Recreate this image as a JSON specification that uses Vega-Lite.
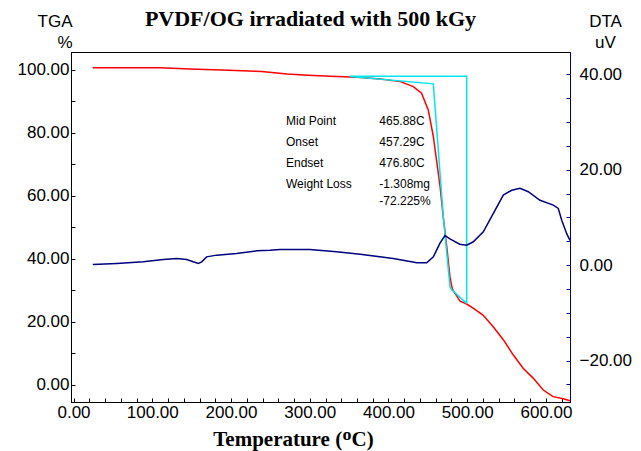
{
  "$schema": "https://vega.github.io/schema/vega-lite/v6.json",
  "width": 499,
  "height": 350,
  "autosize": {"type": "none"},
  "padding": {"left": 71, "top": 52, "right": 71, "bottom": 49},
  "background": "white",
  "title": {
    "text": "PVDF/OG irradiated with 500 kGy",
    "font": "Liberation Serif",
    "fontSize": 22,
    "fontWeight": "bold",
    "color": "#000000",
    "anchor": "middle",
    "frame": "group",
    "dx": -10,
    "offset": -19
  },
  "config": {
    "view": {"stroke": "#000000", "strokeWidth": 1},
    "axis": {
      "grid": false,
      "labelFont": "Liberation Sans",
      "labelFontSize": 17,
      "labelColor": "#000000",
      "labelOverlap": false,
      "tickSize": -4,
      "tickWidth": 1,
      "domainWidth": 1,
      "titleFont": "Liberation Sans",
      "titleFontSize": 17,
      "titleFontWeight": "normal",
      "titleColor": "#000000"
    }
  },
  "datasets": {
    "tga": [
      {"T": 24.4, "v": 100.7}, {"T": 60, "v": 100.7}, {"T": 110, "v": 100.7}, {"T": 148, "v": 100.3},
      {"T": 188, "v": 100.0}, {"T": 239, "v": 99.5}, {"T": 271, "v": 98.7}, {"T": 298, "v": 98.3},
      {"T": 326, "v": 98.0}, {"T": 360, "v": 97.7}, {"T": 390, "v": 97.1}, {"T": 415, "v": 96.3},
      {"T": 431.5, "v": 94.7}, {"T": 442, "v": 92.6}, {"T": 450.5, "v": 87.3}, {"T": 457, "v": 78.8},
      {"T": 461, "v": 71.4}, {"T": 465.5, "v": 63.0}, {"T": 469.5, "v": 53.4}, {"T": 474, "v": 43.9},
      {"T": 478, "v": 34.4}, {"T": 481, "v": 30.5}, {"T": 484.5, "v": 29.1}, {"T": 491, "v": 26.6},
      {"T": 499.3, "v": 25.7}, {"T": 508, "v": 24.3}, {"T": 520, "v": 22.2}, {"T": 533, "v": 18.5},
      {"T": 546, "v": 14.3}, {"T": 558.5, "v": 9.5}, {"T": 571, "v": 5.3}, {"T": 584, "v": 2.1},
      {"T": 596.5, "v": -1.6}, {"T": 609, "v": -3.7}, {"T": 622, "v": -4.4}, {"T": 630.5, "v": -5.0}
    ],
    "dta": [
      {"T": 24.4, "v": 0.15}, {"T": 55, "v": 0.36}, {"T": 88.6, "v": 0.7}, {"T": 114, "v": 1.2},
      {"T": 131, "v": 1.4}, {"T": 143.7, "v": 1.2}, {"T": 152, "v": 0.7}, {"T": 158.5, "v": 0.36},
      {"T": 162.8, "v": 0.7}, {"T": 169, "v": 1.74}, {"T": 181.8, "v": 2.1}, {"T": 207, "v": 2.45},
      {"T": 232.6, "v": 3.0}, {"T": 249.5, "v": 3.14}, {"T": 262, "v": 3.3}, {"T": 300, "v": 3.3},
      {"T": 334, "v": 2.8}, {"T": 364, "v": 2.3}, {"T": 406, "v": 1.4}, {"T": 436, "v": 0.48},
      {"T": 448.5, "v": 0.48}, {"T": 457, "v": 1.74}, {"T": 465.4, "v": 4.6}, {"T": 471.7, "v": 6.2},
      {"T": 478, "v": 5.5}, {"T": 490.5, "v": 4.4}, {"T": 499.3, "v": 4.2}, {"T": 507.7, "v": 4.9},
      {"T": 520.4, "v": 7.0}, {"T": 533, "v": 10.8}, {"T": 545.8, "v": 14.7}, {"T": 556.4, "v": 15.7},
      {"T": 567, "v": 16.1}, {"T": 577.5, "v": 15.4}, {"T": 592.4, "v": 13.6}, {"T": 609.3, "v": 12.6},
      {"T": 615.6, "v": 11.9}, {"T": 620, "v": 9.4}, {"T": 626.3, "v": 6.6}, {"T": 630.5, "v": 5.2}
    ],
    "cyan": [
      {"s": "c1", "o": 1, "T": 351, "v": 98.0},
      {"s": "c1", "o": 2, "T": 499.3, "v": 98.0},
      {"s": "c1", "o": 3, "T": 499.3, "v": 25.9},
      {"s": "c2", "o": 1, "T": 351, "v": 97.9},
      {"s": "c2", "o": 2, "T": 456.9, "v": 95.6},
      {"s": "c2", "o": 3, "T": 469.6, "v": 53.4},
      {"s": "c2", "o": 4, "T": 478.1, "v": 31.2},
      {"s": "c2", "o": 5, "T": 480.3, "v": 30.2},
      {"s": "c2", "o": 6, "T": 499.3, "v": 25.9}
    ],
    "notes": [
      {"T": 269.8, "v": 83.8, "t": "Mid Point"},
      {"T": 269.8, "v": 77.1, "t": "Onset"},
      {"T": 269.8, "v": 70.5, "t": "Endset"},
      {"T": 269.8, "v": 63.8, "t": "Weight Loss"},
      {"T": 388.3, "v": 83.8, "t": "465.88C"},
      {"T": 388.3, "v": 77.1, "t": "457.29C"},
      {"T": 388.3, "v": 70.5, "t": "476.80C"},
      {"T": 388.3, "v": 63.8, "t": "-1.308mg"},
      {"T": 388.3, "v": 58.4, "t": "-72.225%"}
    ]
  },
  "encoding": {
    "x": {
      "field": "T", "type": "quantitative",
      "scale": {"domain": [-3.2, 630.5], "nice": false, "zero": false},
      "axis": {
        "orient": "bottom",
        "values": [0,20,40,60,80,100,120,140,160,180,200,220,240,260,280,300,320,340,360,380,400,420,440,460,480,500,520,540,560,580,600,620],
        "labelExpr": "datum.value % 100 === 0 ? format(datum.value, '.2f') : ''",
        "labelOverlap": false,
        "domainColor": "#000000",
        "tickColor": "#000000",
        "labelPadding": 6,
        "title": "Temperature (ᴼC)",
        "titleFont": "Liberation Serif",
        "titleFontSize": 21,
        "titleFontWeight": "bold",
        "titleX": 222,
        "titleY": 43,
        "titleAlign": "center",
        "titleBaseline": "alphabetic"
      }
    }
  },
  "layer": [
    {
      "encoding": {
        "y": {
          "field": "v", "type": "quantitative",
          "scale": {"domain": [-5.4, 105.7], "nice": false, "zero": false},
          "axis": {
            "orient": "left",
            "values": [0,10,20,30,40,50,60,70,80,90,100],
            "labelExpr": "datum.value % 20 === 0 ? format(datum.value, '.2f') : ''",
            "labelOverlap": false,
            "domainColor": "#000000",
            "tickColor": "#000000",
            "labelPadding": 6,
            "title": ["TGA", "%"],
            "titleAngle": 0,
            "titleAlign": "right",
            "titleBaseline": "alphabetic",
            "titleX": 1,
            "titleY": -26,
            "titleLineHeight": 21
          }
        }
      },
      "layer": [
        {
          "data": {"name": "tga"},
          "mark": {"type": "line", "color": "#FF0000", "strokeWidth": 1.5},
          "encoding": {}
        },
        {
          "data": {"name": "cyan"},
          "mark": {"type": "line", "color": "#00E5EE", "strokeWidth": 1.5},
          "encoding": {
            "detail": {"field": "s"},
            "order": {"field": "o", "type": "quantitative"}
          }
        },
        {
          "data": {"name": "notes"},
          "mark": {"type": "text", "align": "left", "baseline": "middle", "font": "Liberation Sans", "fontSize": 12, "color": "#000000"},
          "encoding": {"text": {"field": "t"}}
        }
      ]
    },
    {
      "data": {"name": "dta"},
      "mark": {"type": "line", "color": "#000080", "strokeWidth": 1.5},
      "encoding": {
        "y": {
          "field": "v", "type": "quantitative",
          "scale": {"domain": [-28.7, 44.7], "nice": false, "zero": false},
          "axis": {
            "orient": "right",
            "values": [-25,-20,-15,-10,-5,0,5,10,15,20,25,30,35,40],
            "labelExpr": "datum.value % 20 === 0 ? format(datum.value, '.2f') : ''",
            "labelOverlap": false,
            "domainColor": "#000080",
            "tickColor": "#000080",
            "labelPadding": 13,
            "title": ["DTA", "uV"],
            "titleAngle": 0,
            "titleAlign": "center",
            "titleBaseline": "alphabetic",
            "titleX": 35,
            "titleY": -26,
            "titleLineHeight": 21
          }
        }
      }
    }
  ],
  "resolve": {"scale": {"y": "independent"}}
}
